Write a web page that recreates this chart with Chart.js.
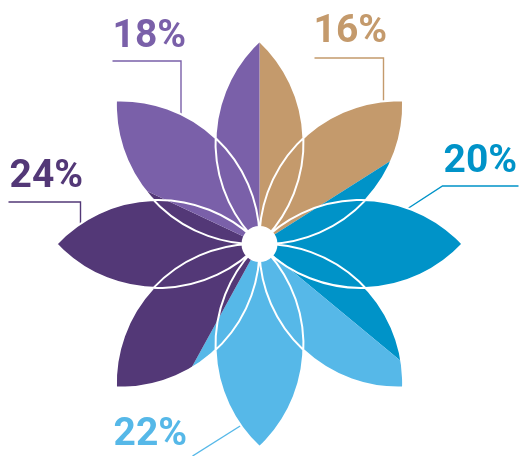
<!DOCTYPE html>
<html>
<head>
<meta charset="utf-8">
<script src="https://cdn.jsdelivr.net/npm/chart.js@4/dist/chart.umd.min.js"></script>
<style>
  html, body { margin: 0; padding: 0; background: #fff; }
  canvas { display: block; }
</style>
</head>
<body>
<canvas id="flower" width="519" height="456"></canvas>
<script>
// slices clockwise from 12 o'clock
const segments = ['Tan', 'Blue', 'Light blue', 'Dark purple', 'Light purple'];
const shares = [16, 20, 22, 24, 18];
const colors = ['#c49a6c', '#0093c8', '#56b8e8', '#533877', '#7a60a9'];

// label text spot and leader polyline, relative to flower centre
const labelSpots = [
  { tx: 54, ty: -202, line: [[55, -186], [124, -186], [124, -140]] },
  { tx: 184, ty: -72, line: [[259, -58], [183, -58], [146, -34]] },
  { tx: -146, ty: 201, line: [[-67, 212], [-13, 178]] },
  { tx: -250, ty: -57, line: [[-251, -42], [-179, -42], [-179, -14]] },
  { tx: -147, ty: -197, line: [[-147, -183], [-78.5, -183], [-78.5, -126]] }
];

const PETAL_LEN = 203;
const PETAL_HALF = 44;
const HOLE = 18;

function petalPath(ctx, cx, cy) {
  const L = PETAL_LEN, w = PETAL_HALF;
  const R = ((L / 2) * (L / 2) + w * w) / (2 * w);
  const off = R - w;
  for (let i = 0; i < 8; i++) {
    ctx.save();
    ctx.translate(cx, cy);
    ctx.rotate(i * Math.PI / 4);
    ctx.moveTo(0, 0);
    ctx.arc(L / 2, off, R, Math.atan2(-off, -L / 2), Math.atan2(-off, L / 2), false);
    ctx.arc(L / 2, -off, R, Math.atan2(off, L / 2), Math.atan2(off, -L / 2), false);
    ctx.closePath();
    ctx.restore();
  }
}

function centre(chart) {
  const arc = chart.getDatasetMeta(0).data[0];
  return { x: arc.x, y: arc.y };
}

const flowerPlugin = {
  id: 'flower',
  beforeDatasetsDraw(chart) {
    const ctx = chart.ctx;
    const c = centre(chart);
    // leaders go under the petals
    labelSpots.forEach((s, i) => {
      ctx.save();
      ctx.strokeStyle = colors[i];
      ctx.lineWidth = 1.4;
      ctx.beginPath();
      s.line.forEach((p, j) => {
        if (j === 0) ctx.moveTo(c.x + p[0], c.y + p[1]);
        else ctx.lineTo(c.x + p[0], c.y + p[1]);
      });
      ctx.stroke();
      ctx.restore();
    });
    ctx.save();
    ctx.beginPath();
    petalPath(ctx, c.x, c.y);
    ctx.clip();
  },
  afterDatasetsDraw(chart) {
    const ctx = chart.ctx;
    ctx.restore();
    const c = centre(chart);
    ctx.save();
    ctx.strokeStyle = '#fff';
    ctx.lineWidth = 2;
    ctx.beginPath();
    petalPath(ctx, c.x, c.y);
    ctx.stroke();
    ctx.fillStyle = '#fff';
    ctx.beginPath();
    ctx.arc(c.x, c.y, HOLE, 0, Math.PI * 2);
    ctx.fill();
    ctx.font = 'bold 39px Roboto';
    ctx.textBaseline = 'alphabetic';
    ctx.textAlign = 'left';
    labelSpots.forEach((s, i) => {
      ctx.fillStyle = colors[i];
      ctx.fillText(shares[i] + '%', c.x + s.tx, c.y + s.ty);
    });
    ctx.restore();
  }
};

new Chart(document.getElementById('flower'), {
  type: 'pie',
  data: {
    labels: segments,
    datasets: [{ data: shares, backgroundColor: colors, borderWidth: 0 }]
  },
  options: {
    responsive: false,
    animation: false,
    layout: { padding: { top: 32 } },
    plugins: { legend: { display: false }, tooltip: { enabled: false } }
  },
  plugins: [flowerPlugin]
});
</script>
</body>
</html>
